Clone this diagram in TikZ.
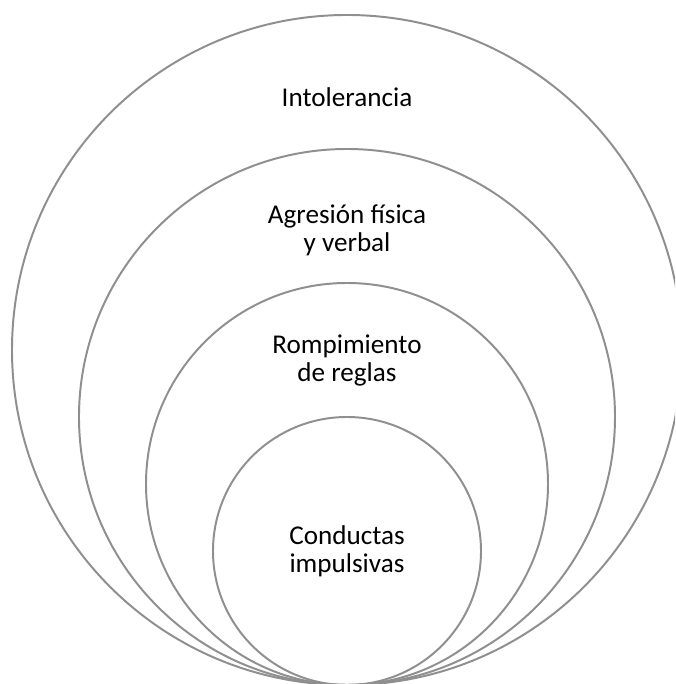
\documentclass[tikz,border=0pt]{standalone}
\usepackage{fontspec}
\setmainfont{Carlito}
\definecolor{ringgray}{RGB}{143,143,143}
\begin{document}
\begin{tikzpicture}[
        ring/.style={draw=ringgray, line width=1.4pt},
        ringtext/.style={font=\fontsize{19.3}{20.4}\selectfont, align=center, anchor=base}
    ]
        
        % Cornice
        \clip (-8.675, 0.025) rectangle (8.2, 17.125);
        
        % Punto di tangenza
        \coordinate (T) at (0, 0);
        
        % Cerchi
        \draw[ring] (0, 8.375) circle (8.375);
        \draw[ring] (0, 6.7) circle (6.7);
        \draw[ring] (0, 5.025) circle (5.025);
        \draw[ring] (0, 3.35) circle (3.35);
        
        % Testi (base = ultima riga)
        \node[ringtext] (intol) at (0, 14.45) {Intolerancia};
        \node[ringtext] (agres) at (0, 10.83) {Agresión física\\y verbal};
        \node[ringtext] (rompi) at (0, 7.58) {Rompimiento\\de reglas};
        \node[ringtext] (impul) at (0, 2.8) {Conductas\\impulsivas};
        
    \end{tikzpicture}
\end{document}
